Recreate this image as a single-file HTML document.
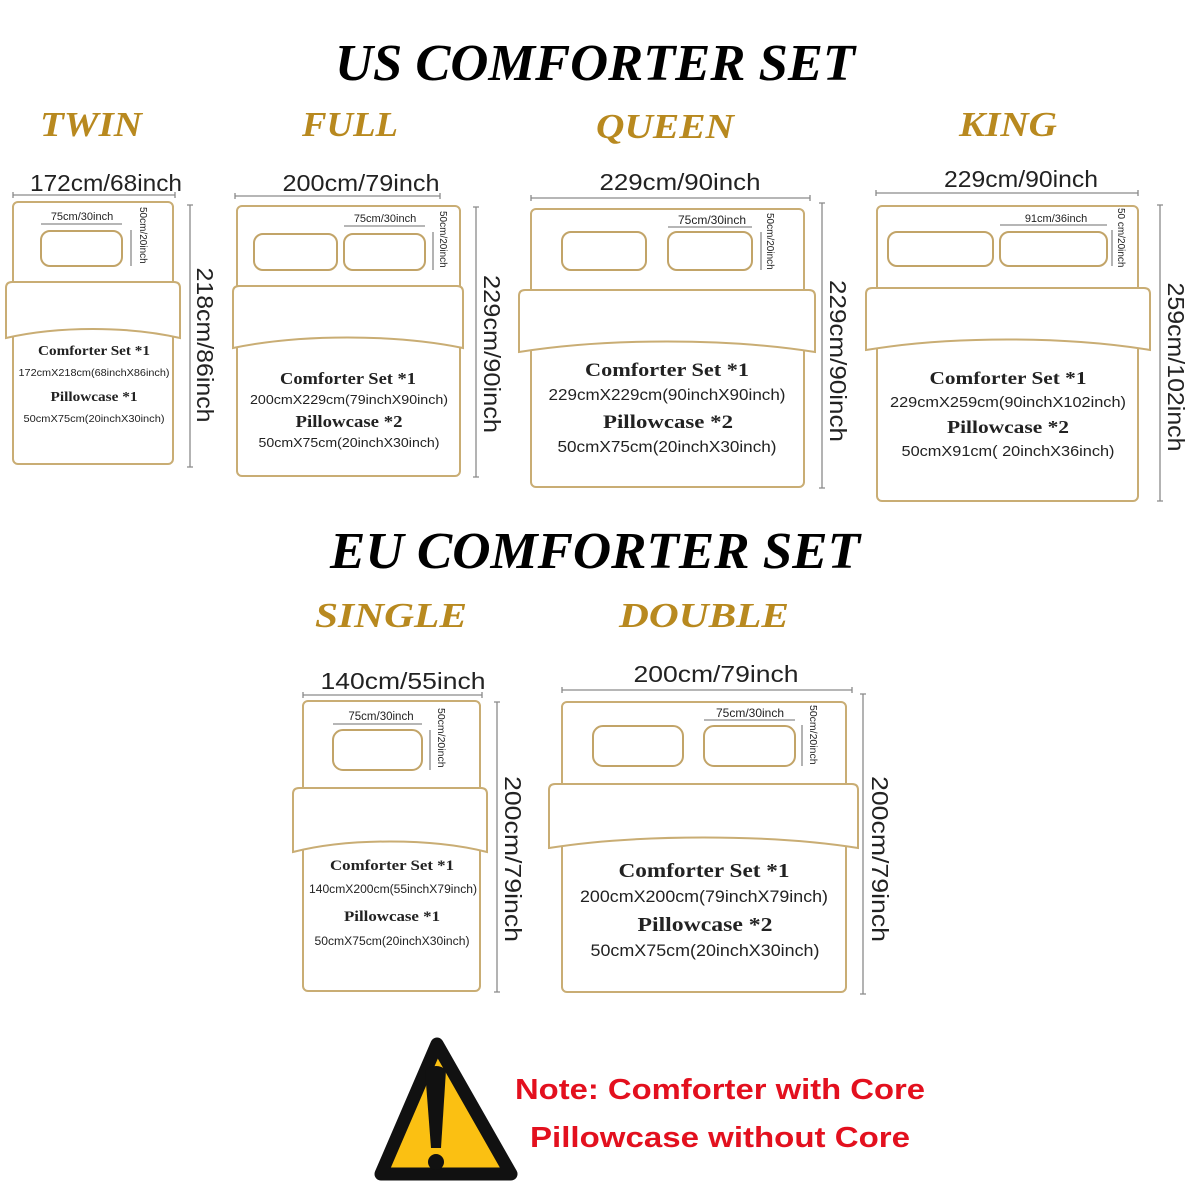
<!DOCTYPE html>
<html><head><meta charset="utf-8"><style>
html,body{margin:0;padding:0;background:#fff;}
svg{display:block}
.o{fill:#fff;stroke:#c9ad74;stroke-width:2}
.p{fill:#fff;stroke:#c2a468;stroke-width:2}
.d{stroke:#8a8a8a;stroke-width:1.3;fill:none}
.t{font-family:"Liberation Serif",serif;font-weight:bold;font-style:italic}
.g{fill:#b8891f}
.s{font-family:"Liberation Sans",sans-serif;fill:#222}
.b{font-family:"Liberation Serif",serif;font-weight:bold;fill:#222}
</style></head><body>
<svg width="1200" height="1200" viewBox="0 0 1200 1200" xmlns="http://www.w3.org/2000/svg">
<text class="t" x="595" y="80" font-size="52" text-anchor="middle" textLength="520" lengthAdjust="spacingAndGlyphs">US COMFORTER SET</text>
<text class="t g" x="91" y="136" font-size="35" text-anchor="middle" textLength="102" lengthAdjust="spacingAndGlyphs">TWIN</text>
<text class="t g" x="350" y="136" font-size="35" text-anchor="middle" textLength="96" lengthAdjust="spacingAndGlyphs">FULL</text>
<text class="t g" x="665" y="138" font-size="35" text-anchor="middle" textLength="138" lengthAdjust="spacingAndGlyphs">QUEEN</text>
<text class="t g" x="1008" y="136" font-size="35" text-anchor="middle" textLength="98" lengthAdjust="spacingAndGlyphs">KING</text>

<!-- TWIN -->
<text class="s" x="106" y="191" font-size="23" text-anchor="middle" textLength="152" lengthAdjust="spacingAndGlyphs">172cm/68inch</text>
<path class="d" d="M13 195H175M13 192V198M175 192V198"/>
<rect class="o" x="13" y="202" width="160" height="262" rx="5"/>
<rect class="p" x="41" y="231" width="81" height="35" rx="9"/>
<text class="s" x="82" y="220" font-size="11" text-anchor="middle">75cm/30inch</text>
<path class="d" d="M41 224H122"/>
<path class="d" d="M131 230V266"/>
<text class="s" font-size="10" transform="translate(140,207) rotate(90)">50cm/20inch</text>
<path class="d" d="M190 205V467M187 205H193M187 467H193"/>
<text class="s" font-size="23" text-anchor="middle" transform="translate(197,345) rotate(90)" textLength="155" lengthAdjust="spacingAndGlyphs">218cm/86inch</text>
<path class="o" d="M12 282H174Q180 282 180 288V338C128 326 58 326 6 338V288Q6 282 12 282Z"/>
<text class="b" x="94" y="355" font-size="14" text-anchor="middle" textLength="112" lengthAdjust="spacingAndGlyphs">Comforter Set *1</text>
<text class="s" x="94" y="376" font-size="10.5" text-anchor="middle" textLength="151" lengthAdjust="spacingAndGlyphs">172cmX218cm(68inchX86inch)</text>
<text class="b" x="94" y="401" font-size="14" text-anchor="middle" textLength="87" lengthAdjust="spacingAndGlyphs">Pillowcase *1</text>
<text class="s" x="94" y="422" font-size="10.5" text-anchor="middle" textLength="141" lengthAdjust="spacingAndGlyphs">50cmX75cm(20inchX30inch)</text>

<!-- FULL -->
<text class="s" x="361" y="191" font-size="23" text-anchor="middle" textLength="157" lengthAdjust="spacingAndGlyphs">200cm/79inch</text>
<path class="d" d="M235 196H440M235 193V199M440 193V199"/>
<rect class="o" x="237" y="206" width="223" height="270" rx="5"/>
<rect class="p" x="254" y="234" width="83" height="36" rx="9"/>
<rect class="p" x="344" y="234" width="81" height="36" rx="9"/>
<text class="s" x="385" y="222" font-size="11" text-anchor="middle">75cm/30inch</text>
<path class="d" d="M344 226H425"/>
<path class="d" d="M433 232V270"/>
<text class="s" font-size="10" transform="translate(440,211) rotate(90)">50cm/20inch</text>
<path class="d" d="M476 207V477M473 207H479M473 477H479"/>
<text class="s" font-size="23" text-anchor="middle" transform="translate(484,354) rotate(90)" textLength="158" lengthAdjust="spacingAndGlyphs">229cm/90inch</text>
<path class="o" d="M239 286H457Q463 286 463 292V348C395 334 300 334 233 348V292Q233 286 239 286Z"/>
<text class="b" x="348" y="384" font-size="16.5" text-anchor="middle" textLength="136" lengthAdjust="spacingAndGlyphs">Comforter Set *1</text>
<text class="s" x="349" y="404" font-size="13" text-anchor="middle" textLength="198" lengthAdjust="spacingAndGlyphs">200cmX229cm(79inchX90inch)</text>
<text class="b" x="349" y="427" font-size="16.5" text-anchor="middle" textLength="107" lengthAdjust="spacingAndGlyphs">Pillowcase *2</text>
<text class="s" x="349" y="447" font-size="13" text-anchor="middle" textLength="181" lengthAdjust="spacingAndGlyphs">50cmX75cm(20inchX30inch)</text>

<!-- QUEEN -->
<text class="s" x="680" y="190" font-size="23" text-anchor="middle" textLength="161" lengthAdjust="spacingAndGlyphs">229cm/90inch</text>
<path class="d" d="M531 198H810M531 195V201M810 195V201"/>
<rect class="o" x="531" y="209" width="273" height="278" rx="5"/>
<rect class="p" x="562" y="232" width="84" height="38" rx="9"/>
<rect class="p" x="668" y="232" width="84" height="38" rx="9"/>
<text class="s" x="712" y="224" font-size="12" text-anchor="middle">75cm/30inch</text>
<path class="d" d="M668 227H752"/>
<path class="d" d="M761 232V270"/>
<text class="s" font-size="10" transform="translate(767,213) rotate(90)">50cm/20inch</text>
<path class="d" d="M822 203V488M819 203H825M819 488H825"/>
<text class="s" font-size="23" text-anchor="middle" transform="translate(830,361) rotate(90)" textLength="162" lengthAdjust="spacingAndGlyphs">229cm/90inch</text>
<path class="o" d="M525 290H809Q815 290 815 296V352C727 338 607 338 519 352V296Q519 290 525 290Z"/>
<text class="b" x="667" y="376" font-size="19" text-anchor="middle" textLength="164" lengthAdjust="spacingAndGlyphs">Comforter Set *1</text>
<text class="s" x="667" y="400" font-size="15.5" text-anchor="middle" textLength="237" lengthAdjust="spacingAndGlyphs">229cmX229cm(90inchX90inch)</text>
<text class="b" x="668" y="428" font-size="19" text-anchor="middle" textLength="130" lengthAdjust="spacingAndGlyphs">Pillowcase *2</text>
<text class="s" x="667" y="452" font-size="15.5" text-anchor="middle" textLength="219" lengthAdjust="spacingAndGlyphs">50cmX75cm(20inchX30inch)</text>

<!-- KING -->
<text class="s" x="1021" y="187" font-size="23" text-anchor="middle" textLength="154" lengthAdjust="spacingAndGlyphs">229cm/90inch</text>
<path class="d" d="M876 193H1138M876 190V196M1138 190V196"/>
<rect class="o" x="877" y="206" width="261" height="295" rx="5"/>
<rect class="p" x="888" y="232" width="105" height="34" rx="9"/>
<rect class="p" x="1000" y="232" width="107" height="34" rx="9"/>
<text class="s" x="1056" y="222" font-size="11" text-anchor="middle">91cm/36inch</text>
<path class="d" d="M1000 225H1107"/>
<path class="d" d="M1112 230V266"/>
<text class="s" font-size="10" transform="translate(1118,208) rotate(90)">50 cm/20inch</text>
<path class="d" d="M1160 205V501M1157 205H1163M1157 501H1163"/>
<text class="s" font-size="23" text-anchor="middle" transform="translate(1168,367) rotate(90)" textLength="169" lengthAdjust="spacingAndGlyphs">259cm/102inch</text>
<path class="o" d="M872 288H1144Q1150 288 1150 294V350C1065 336 950 336 866 350V294Q866 288 872 288Z"/>
<text class="b" x="1008" y="384" font-size="18" text-anchor="middle" textLength="157" lengthAdjust="spacingAndGlyphs">Comforter Set *1</text>
<text class="s" x="1008" y="407" font-size="15" text-anchor="middle" textLength="236" lengthAdjust="spacingAndGlyphs">229cmX259cm(90inchX102inch)</text>
<text class="b" x="1008" y="433" font-size="18" text-anchor="middle" textLength="122" lengthAdjust="spacingAndGlyphs">Pillowcase *2</text>
<text class="s" x="1008" y="456" font-size="15" text-anchor="middle" textLength="213" lengthAdjust="spacingAndGlyphs">50cmX91cm( 20inchX36inch)</text>

<!-- EU -->
<text class="t" x="595" y="568" font-size="52" text-anchor="middle" textLength="530" lengthAdjust="spacingAndGlyphs">EU COMFORTER SET</text>
<text class="t g" x="391" y="627" font-size="35" text-anchor="middle" textLength="152" lengthAdjust="spacingAndGlyphs">SINGLE</text>
<text class="t g" x="704" y="627" font-size="35" text-anchor="middle" textLength="170" lengthAdjust="spacingAndGlyphs">DOUBLE</text>

<!-- SINGLE -->
<text class="s" x="403" y="689" font-size="23" text-anchor="middle" textLength="165" lengthAdjust="spacingAndGlyphs">140cm/55inch</text>
<path class="d" d="M303 695H482M303 692V698M482 692V698"/>
<rect class="o" x="303" y="701" width="177" height="290" rx="5"/>
<rect class="p" x="333" y="730" width="89" height="40" rx="10"/>
<text class="s" x="381" y="720" font-size="11.5" text-anchor="middle">75cm/30inch</text>
<path class="d" d="M333 724H422"/>
<path class="d" d="M430 730V770"/>
<text class="s" font-size="10.5" transform="translate(438,708) rotate(90)">50cm/20inch</text>
<path class="d" d="M497 702V992M494 702H500M494 992H500"/>
<text class="s" font-size="23" text-anchor="middle" transform="translate(505,859) rotate(90)" textLength="166" lengthAdjust="spacingAndGlyphs">200cm/79inch</text>
<path class="o" d="M299 788H481Q487 788 487 794V852C432 838 348 838 293 852V794Q293 788 299 788Z"/>
<text class="b" x="392" y="870" font-size="15" text-anchor="middle" textLength="124" lengthAdjust="spacingAndGlyphs">Comforter Set *1</text>
<text class="s" x="393" y="893" font-size="11.5" text-anchor="middle" textLength="168" lengthAdjust="spacingAndGlyphs">140cmX200cm(55inchX79inch)</text>
<text class="b" x="392" y="921" font-size="15" text-anchor="middle" textLength="96" lengthAdjust="spacingAndGlyphs">Pillowcase *1</text>
<text class="s" x="392" y="945" font-size="11.5" text-anchor="middle" textLength="155" lengthAdjust="spacingAndGlyphs">50cmX75cm(20inchX30inch)</text>

<!-- DOUBLE -->
<text class="s" x="716" y="682" font-size="23" text-anchor="middle" textLength="165" lengthAdjust="spacingAndGlyphs">200cm/79inch</text>
<path class="d" d="M562 690H852M562 687V693M852 687V693"/>
<rect class="o" x="562" y="702" width="284" height="290" rx="5"/>
<rect class="p" x="593" y="726" width="90" height="40" rx="10"/>
<rect class="p" x="704" y="726" width="91" height="40" rx="10"/>
<text class="s" x="750" y="717" font-size="12" text-anchor="middle">75cm/30inch</text>
<path class="d" d="M704 720H795"/>
<path class="d" d="M802 725V766"/>
<text class="s" font-size="10.5" transform="translate(810,705) rotate(90)">50cm/20inch</text>
<path class="d" d="M863 694V994M860 694H866M860 994H866"/>
<text class="s" font-size="23" text-anchor="middle" transform="translate(872,859) rotate(90)" textLength="166" lengthAdjust="spacingAndGlyphs">200cm/79inch</text>
<path class="o" d="M555 784H852Q858 784 858 790V848C770 834 637 834 549 848V790Q549 784 555 784Z"/>
<text class="b" x="704" y="877" font-size="20" text-anchor="middle" textLength="171" lengthAdjust="spacingAndGlyphs">Comforter Set *1</text>
<text class="s" x="704" y="902" font-size="17" text-anchor="middle" textLength="248" lengthAdjust="spacingAndGlyphs">200cmX200cm(79inchX79inch)</text>
<text class="b" x="705" y="931" font-size="20" text-anchor="middle" textLength="135" lengthAdjust="spacingAndGlyphs">Pillowcase *2</text>
<text class="s" x="705" y="956" font-size="17" text-anchor="middle" textLength="229" lengthAdjust="spacingAndGlyphs">50cmX75cm(20inchX30inch)</text>

<!-- Warning -->
<path d="M437 1044L511 1174L381 1174Z" fill="#fbc012" stroke="#111" stroke-width="13" stroke-linejoin="round"/>
<path d="M425 1070Q437 1062 446 1070L441 1148H431Z" fill="#111"/>
<circle cx="436" cy="1162" r="8" fill="#111"/>
<text x="720" y="1099" font-family="Liberation Sans,sans-serif" font-weight="bold" font-size="29" fill="#e3101e" text-anchor="middle" textLength="410" lengthAdjust="spacingAndGlyphs">Note: Comforter with Core</text>
<text x="720" y="1147" font-family="Liberation Sans,sans-serif" font-weight="bold" font-size="29" fill="#e3101e" text-anchor="middle" textLength="380" lengthAdjust="spacingAndGlyphs">Pillowcase without Core</text>
</svg>
</body></html>
